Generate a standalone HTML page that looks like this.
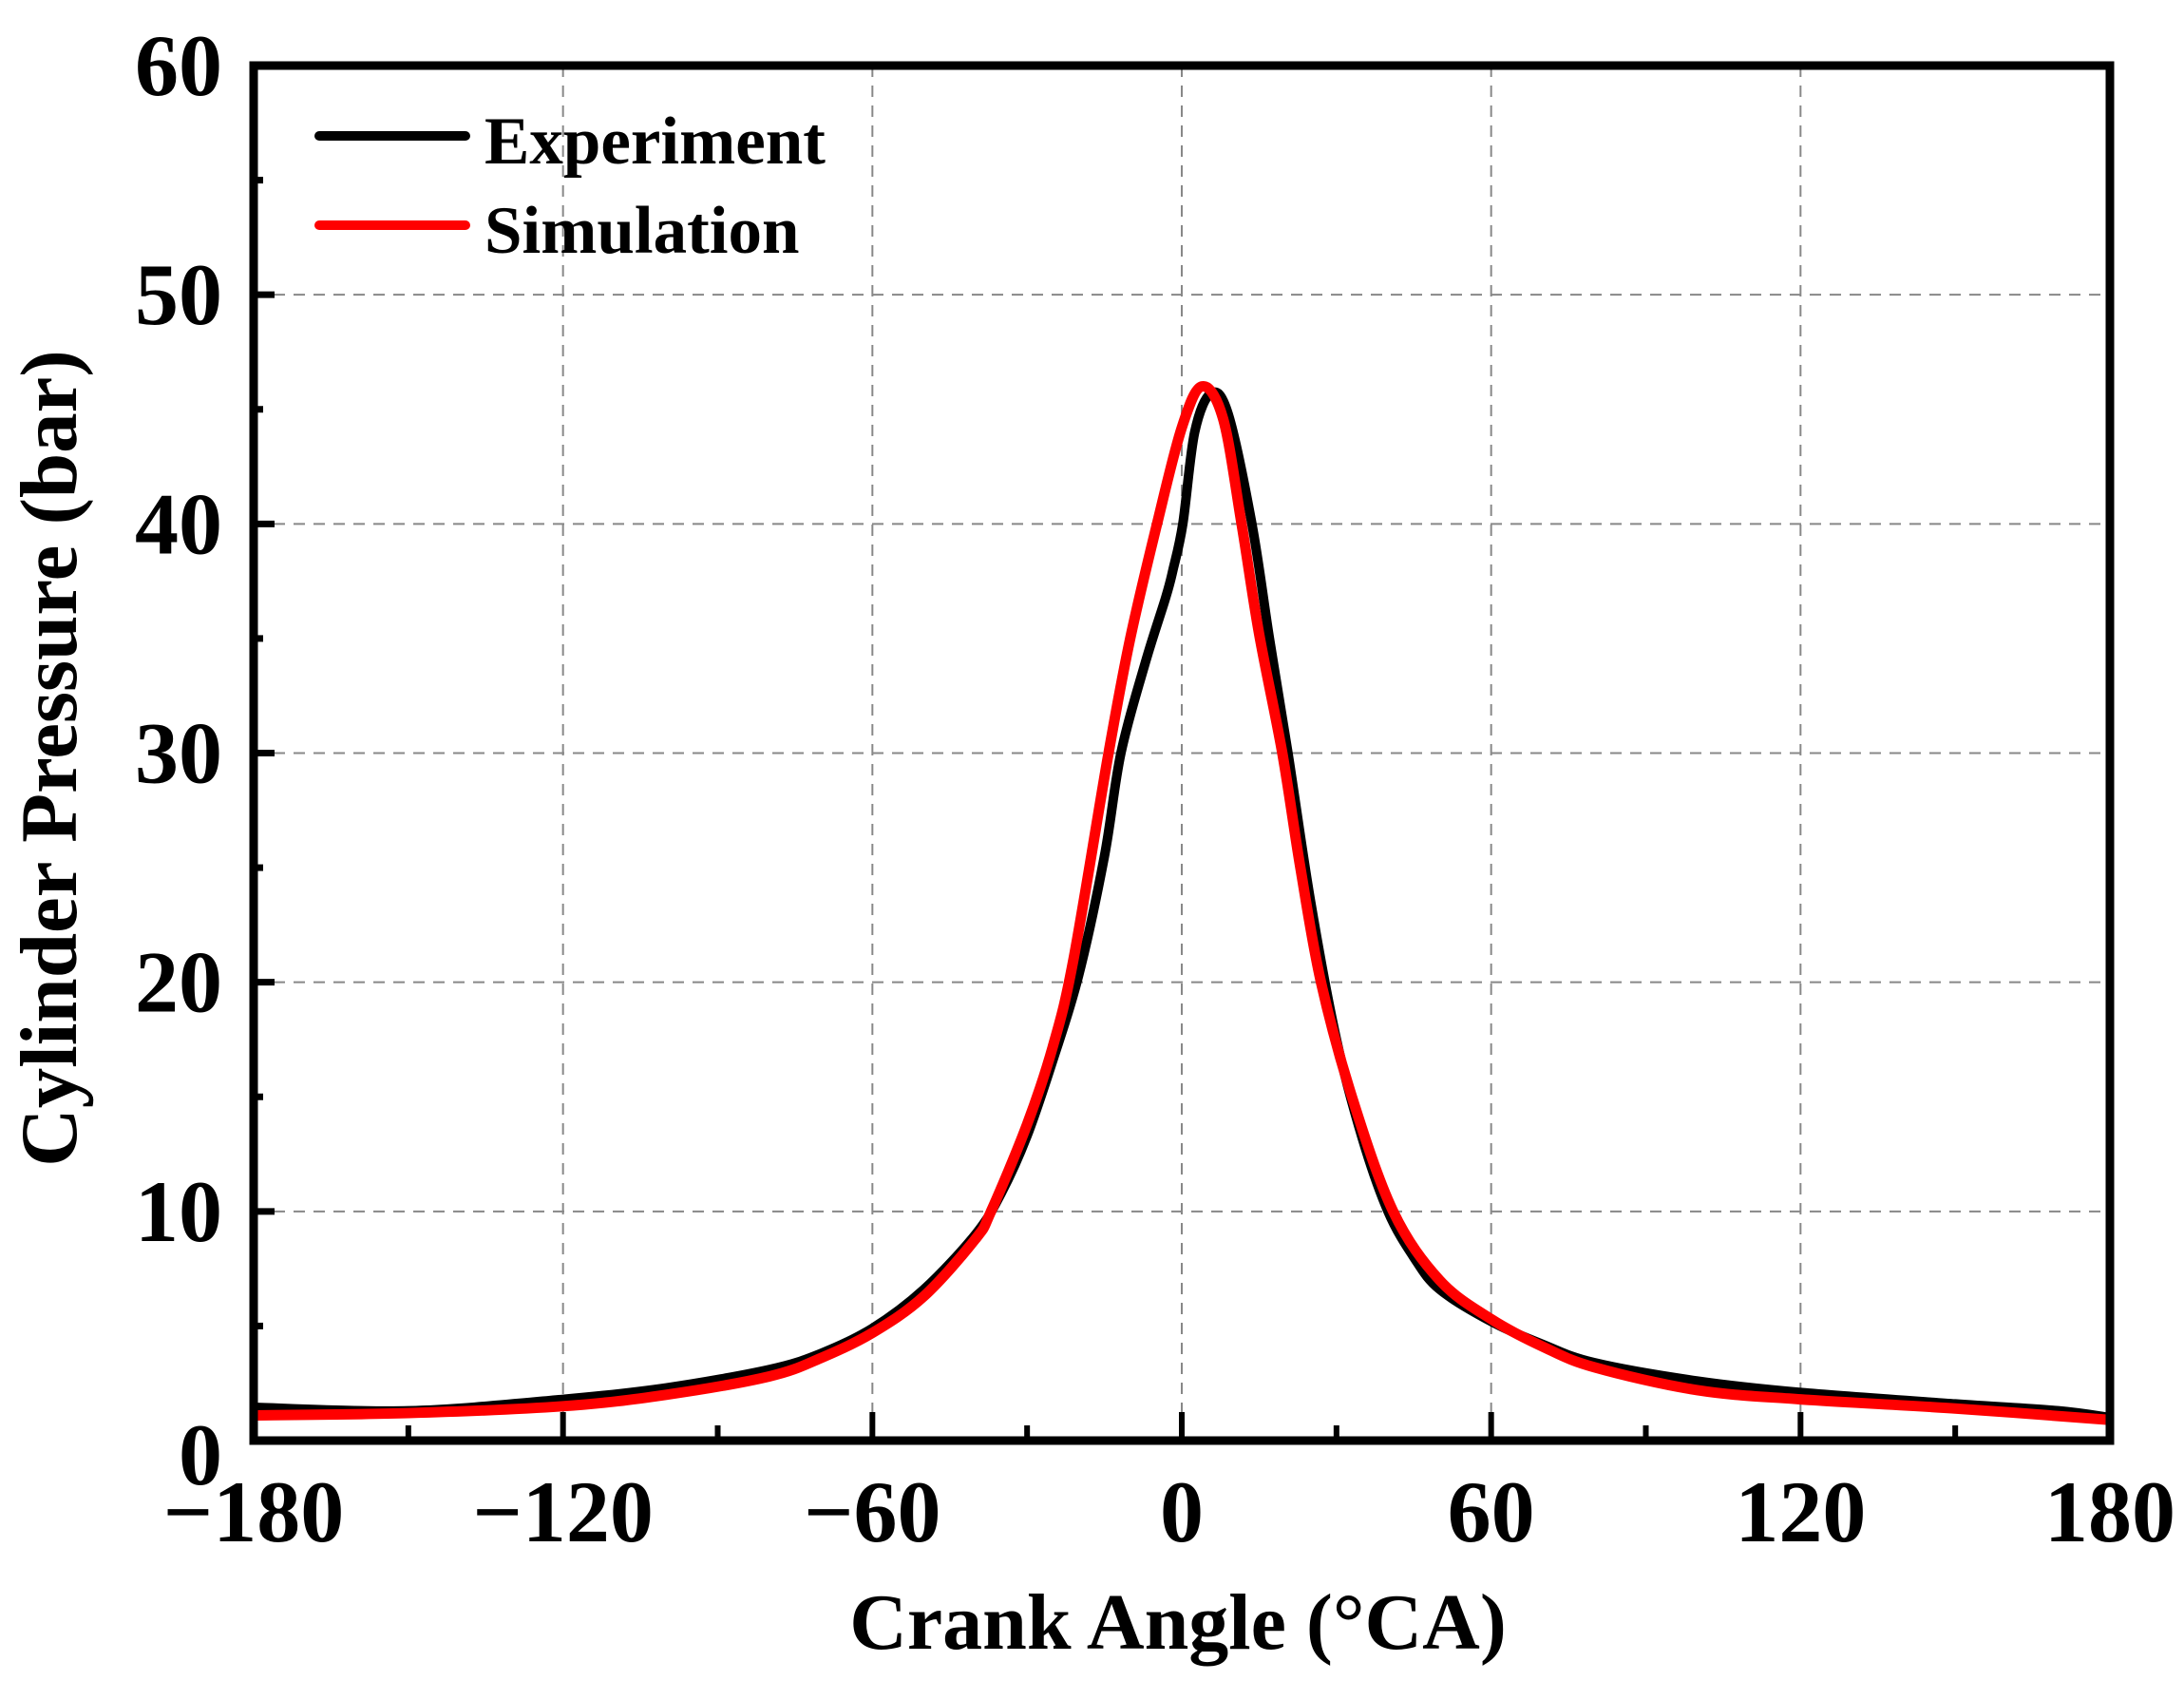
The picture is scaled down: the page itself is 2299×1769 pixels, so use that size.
<!DOCTYPE html>
<html><head><meta charset="utf-8">
<style>
html,body{margin:0;padding:0;background:#fff;}
svg text{font-family:"Liberation Serif",serif;font-weight:bold;fill:#000;}
</style></head>
<body>
<svg id="chart" width="2299" height="1764" viewBox="0 0 2299 1764" xmlns="http://www.w3.org/2000/svg">
<g id="grid"></g>
<g id="series"></g>
<rect x="267" y="69" width="1954" height="1447" fill="none" stroke="#000" stroke-width="9"/>
<g id="ticks"></g>
<g id="labels"></g>
<text x="1240" y="1735" font-size="84" text-anchor="middle">Crank Angle (°CA)</text>
<text transform="translate(80,798) rotate(-90)" font-size="85" text-anchor="middle">Cylinder Pressure (bar)</text>
<g>
<line x1="336" y1="143" x2="490" y2="143" stroke="#000" stroke-width="10" stroke-linecap="round"/>
<text x="510" y="172" font-size="71">Experiment</text>
<line x1="336" y1="237" x2="490" y2="237" stroke="#ff0000" stroke-width="10" stroke-linecap="round"/>
<text x="510" y="266" font-size="71">Simulation</text>
</g>
</svg>
<script>
const xTicks = [-180,-120,-60,0,60,120,180];
const xTickLabels = ['\u2212180','\u2212120','\u221260','0','60','120','180'];
const yTicks = [0,10,20,30,40,50,60];
const yTickLabels = ['0','10','20','30','40','50','60'];
const expAngle = [-180,-150,-120,-100,-80,-70,-60,-50,-40,-35,-30,-25,-20,-15,-11.8,-7,-3.1,-1.7,0.2,2.5,5.7,9,13.6,17,20.6,25,30,35,40,45,50,60,70,80,100,120,150,170,180];
const expPressure = [1.45,1.3,1.8,2.3,3.1,3.8,4.9,6.6,9.0,10.8,13.3,16.6,20.3,25.5,30,34,36.8,38,40,44,45.7,44.8,40,35,30,23.5,17.5,13.2,10.0,8.0,6.6,5.2,4.2,3.4,2.6,2.1,1.6,1.3,1.0];
const simAngle = [-180,-150,-120,-100,-80,-70,-60,-50,-40,-37,-30,-25,-21,-14.2,-10,-4.8,0,3.9,8,11.6,15,19.5,23,27,33,41,50,60,70,80,100,120,150,180];
const simPressure = [1.1,1.2,1.5,2.0,2.8,3.6,4.7,6.3,8.8,10,13.8,17.2,21,30,35,40,44.2,46.0,44.6,40,35.2,30,25,20,15,10,7.0,5.3,4.1,3.2,2.2,1.8,1.4,0.9];

const X0=267,X1=2221,Y0=1516,Y1=69;
const sx=v=>X0+(v+180)/360*(X1-X0);
const sy=v=>Y0-v/60*(Y0-Y1);
const NS='http://www.w3.org/2000/svg';
function mk(tag,attrs,parent){const e=document.createElementNS(NS,tag);for(const k in attrs)e.setAttribute(k,attrs[k]);parent.appendChild(e);return e;}
const grid=document.getElementById('grid'),ticks=document.getElementById('ticks'),labels=document.getElementById('labels'),series=document.getElementById('series');

xTicks.forEach((v,i)=>{
  if(i>0&&i<xTicks.length-1){
    const g=mk('line',{x1:sx(v),x2:sx(v),y1:Y1,y2:Y0,stroke:'#888','stroke-width':2,'stroke-dasharray':'12,9'},grid);
    
    
  }
  const t=mk('line',{x1:sx(v),x2:sx(v),y1:Y0,y2:Y0-30,stroke:'#000','stroke-width':6},ticks);
  
  
  if(i<xTicks.length-1){
    const m=mk('line',{x1:sx(v+30),x2:sx(v+30),y1:Y0,y2:Y0-16,stroke:'#000','stroke-width':6},ticks);
    
    
  }
  const l=mk('text',{x:sx(v),y:1622,'font-size':92,'text-anchor':'middle'},labels);
  l.textContent=xTickLabels[i];
  
  
});
yTicks.forEach((v,i)=>{
  if(i>0&&i<yTicks.length-1){
    const g=mk('line',{x1:X0,x2:X1,y1:sy(v),y2:sy(v),stroke:'#888','stroke-width':2,'stroke-dasharray':'12,9'},grid);
    
    
  }
  const t=mk('line',{x1:X0,x2:X0+22,y1:sy(v),y2:sy(v),stroke:'#000','stroke-width':7},ticks);
  
  
  if(i<yTicks.length-1){
    const m=mk('line',{x1:X0,x2:X0+10,y1:sy(v+5),y2:sy(v+5),stroke:'#000','stroke-width':7},ticks);
    
    
  }
  const l=mk('text',{x:234,y:sy(v)+(v===0?46:31),'font-size':92,'text-anchor':'end'},labels);
  l.textContent=yTickLabels[i];
  
  
});

function smoothPath(xs,ys){
  const px=xs.map(sx),py=ys.map(sy),n=px.length;
  let d='M'+px[0]+','+py[0];
  for(let i=0;i<n-1;i++){
    const p0=i>0?i-1:i,p3=i+2<n?i+2:i+1;
    const c1x=px[i]+(px[i+1]-px[p0])/6,c1y=py[i]+(py[i+1]-py[p0])/6;
    const c2x=px[i+1]-(px[p3]-px[i])/6,c2y=py[i+1]-(py[p3]-py[i])/6;
    d+=' C'+c1x+','+c1y+' '+c2x+','+c2y+' '+px[i+1]+','+py[i+1];
  }
  return d;
}
const e=mk('path',{d:smoothPath(expAngle,expPressure),fill:'none',stroke:'#000','stroke-width':10,'stroke-linejoin':'round'},series);


const s=mk('path',{d:smoothPath(simAngle,simPressure),fill:'none',stroke:'#ff0000','stroke-width':11,'stroke-linejoin':'round'},series);


</script>
</body></html>
